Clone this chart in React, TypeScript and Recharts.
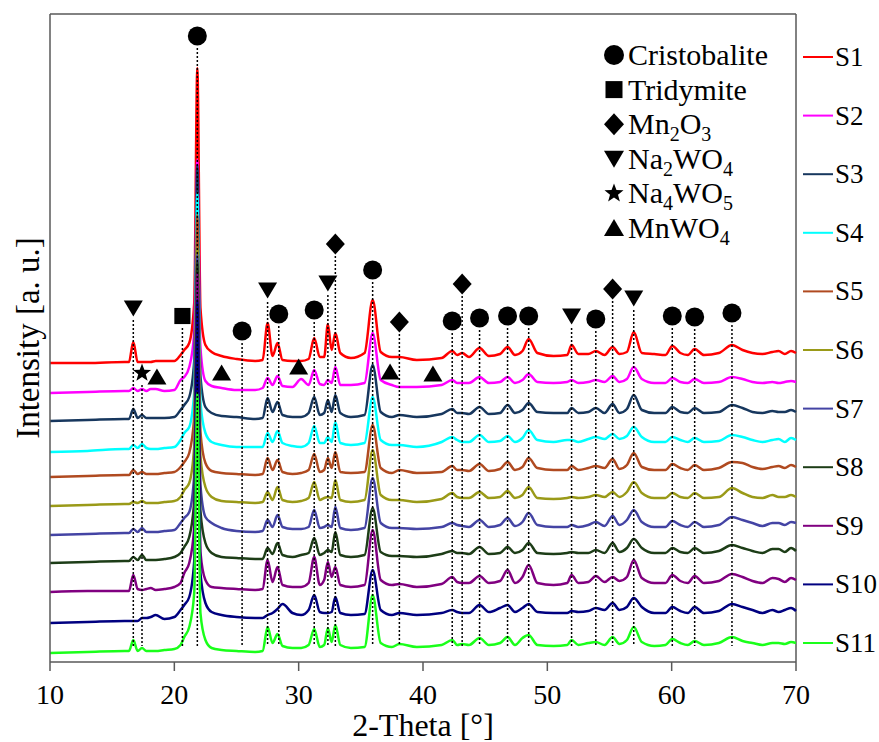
import { Legend, Line, LineChart, ReferenceDot, ReferenceLine, XAxis, YAxis } from 'recharts';

const serif = "'Liberation Serif', Tinos, 'Times New Roman', Times, 'DejaVu Serif', serif";
const axisGrey = '#595959';

// 2-theta positions (deg) shared by every pattern
const twoTheta = [
  10, 13, 16, 16.35, 16.7, 17.05, 17.4, 17.75, 18.1, 18.5,
  19.2, 20, 20.5, 20.8, 21.2, 21.6, 21.85, 22.1, 22.5, 23,
  23.8, 25, 26.5, 27.1, 27.5, 27.9, 28.3, 28.7, 29.5, 30.2,
  30.8, 31.25, 31.7, 32.05, 32.35, 32.65, 32.95, 33.35, 34.2, 35.3,
  35.95, 36.6, 37.5, 38.1, 39.5, 41.5, 42.35, 42.75, 43.15, 43.7,
  44.55, 45.3, 46.2, 46.8, 47.4, 48, 48.5, 49.2, 50.5, 51.6,
  51.95, 52.5, 53.3, 53.9, 54.6, 55.25, 55.8, 56.4, 56.95, 57.6,
  58.6, 59.5, 60.05, 60.7, 61.3, 61.85, 62.6, 63.8, 64.85, 65.7,
  66.5, 67.3, 68.1, 68.6, 69.1, 69.6, 70,
];

// intensities (a.u.) above each pattern's own baseline
const s1 = [
  0, 0, 1, 1, 21, 1, 1, 1, 1, 2,
  2, 2, 8, 13, 20, 60, 295, 55, 18, 11,
  7, 4, 2, 3, 40, 7, 20, 3, 2, 2,
  4, 25, 6, 6, 39, 13, 30, 10, 5, 10,
  63, 11, 6, 6, 3, 5, 12, 8, 10, 6,
  15, 7, 9, 16, 8, 12, 24, 10, 7, 8,
  18, 9, 9, 12, 8, 16, 9, 11, 31, 10,
  9, 8, 17, 10, 8, 14, 8, 10, 18, 13,
  10, 9, 11, 12, 9, 12, 10,
];
const s2 = [
  0, 1, 2, 2, 5, 2, 4, 2, 4, 4,
  2, 3, 13, 16, 26, 60, 233, 45, 12, 7,
  5, 3, 3, 5, 15, 8, 17, 7, 6, 14,
  8, 23, 9, 8, 13, 10, 26, 8, 8, 10,
  60, 13, 8, 6, 6, 8, 13, 10, 10, 10,
  16, 10, 11, 16, 10, 13, 19, 11, 10, 11,
  13, 10, 11, 13, 11, 17, 11, 14, 26, 14,
  10, 10, 15, 11, 10, 14, 10, 11, 16, 14,
  11, 10, 11, 10, 11, 12, 11,
];
const s3 = [
  0, 1, 2, 2, 12, 3, 6, 3, 3, 3,
  3, 4, 11, 16, 24, 60, 256, 45, 14, 8,
  5, 4, 2, 3, 23, 9, 19, 6, 4, 4,
  8, 24, 6, 8, 21, 9, 26, 8, 4, 6,
  56, 9, 4, 6, 4, 7, 12, 8, 8, 7,
  14, 7, 8, 16, 8, 11, 18, 9, 8, 8,
  13, 8, 9, 13, 8, 17, 8, 12, 26, 11,
  8, 8, 14, 9, 8, 13, 8, 9, 16, 13,
  9, 8, 10, 9, 9, 11, 9,
];
const s4 = [
  0, 1, 3, 3, 7, 4, 8, 4, 3, 3,
  4, 5, 12, 19, 25, 60, 259, 50, 19, 10,
  7, 5, 5, 5, 19, 10, 21, 9, 6, 5,
  9, 26, 9, 9, 15, 10, 30, 9, 7, 9,
  55, 12, 7, 7, 5, 10, 15, 12, 10, 10,
  17, 10, 11, 16, 10, 14, 22, 12, 10, 12,
  12, 10, 13, 15, 13, 18, 13, 16, 25, 15,
  10, 10, 15, 12, 10, 14, 10, 11, 17, 15,
  12, 10, 12, 13, 10, 14, 12,
];
const s5 = [
  0, 1, 2, 2, 7, 3, 5, 3, 3, 3,
  4, 5, 10, 15, 24, 60, 262, 45, 14, 6,
  4, 3, 2, 3, 19, 7, 17, 5, 3, 4,
  7, 23, 5, 7, 19, 9, 25, 5, 4, 5,
  52, 9, 4, 7, 4, 5, 11, 7, 7, 6,
  13, 6, 8, 15, 7, 10, 19, 9, 7, 7,
  11, 7, 9, 11, 9, 18, 8, 12, 24, 10,
  7, 7, 13, 9, 7, 12, 7, 9, 15, 14,
  10, 8, 10, 11, 9, 12, 10,
];
const s6 = [
  0, 1, 2, 2, 4, 3, 5, 3, 3, 3,
  4, 5, 9, 16, 23, 60, 258, 50, 19, 9,
  5, 4, 3, 4, 14, 6, 19, 6, 4, 5,
  8, 24, 6, 8, 9, 8, 26, 6, 4, 6,
  56, 11, 6, 6, 4, 7, 13, 9, 8, 8,
  14, 8, 9, 15, 8, 11, 19, 8, 7, 8,
  9, 8, 9, 11, 9, 14, 9, 14, 24, 13,
  8, 8, 13, 9, 8, 13, 8, 9, 18, 13,
  9, 8, 11, 9, 9, 11, 9,
];
const s7 = [
  0, 1, 2, 2, 6, 3, 7, 3, 3, 3,
  4, 5, 12, 17, 23, 60, 280, 50, 18, 12,
  7, 4, 3, 4, 15, 8, 20, 8, 6, 6,
  8, 25, 7, 8, 10, 8, 28, 7, 5, 7,
  57, 12, 7, 7, 6, 8, 12, 10, 9, 8,
  15, 8, 10, 17, 9, 13, 22, 10, 8, 8,
  10, 8, 10, 13, 9, 19, 10, 15, 25, 13,
  8, 8, 14, 10, 8, 13, 8, 10, 18, 15,
  12, 9, 12, 12, 10, 13, 12,
];
const s8 = [
  0, 1, 2, 2, 6, 3, 8, 3, 3, 3,
  4, 6, 10, 16, 26, 62, 301, 52, 20, 10,
  6, 5, 4, 4, 15, 9, 20, 8, 6, 8,
  10, 25, 8, 10, 13, 11, 31, 8, 6, 8,
  55, 11, 7, 7, 6, 9, 12, 10, 10, 9,
  16, 9, 10, 16, 10, 13, 20, 10, 9, 10,
  11, 10, 10, 13, 10, 20, 11, 15, 24, 15,
  10, 10, 15, 11, 10, 15, 10, 12, 18, 15,
  12, 10, 14, 14, 11, 15, 12,
];
const s9 = [
  0, 1, 1, 1, 17, 3, 2, 3, 4, 2,
  3, 5, 9, 19, 29, 65, 319, 40, 12, 5,
  4, 3, 2, 3, 32, 10, 25, 7, 5, 5,
  9, 35, 7, 12, 30, 15, 25, 7, 5, 7,
  62, 12, 7, 8, 5, 8, 15, 10, 9, 9,
  16, 9, 11, 22, 9, 15, 27, 9, 7, 9,
  17, 9, 10, 16, 10, 15, 11, 15, 32, 14,
  9, 9, 17, 11, 9, 16, 9, 11, 18, 15,
  11, 9, 14, 13, 10, 14, 12,
];
const s10 = [
  0, 1, 2, 2, 2, 2, 5, 5, 6, 8,
  4, 6, 13, 18, 26, 62, 323, 50, 20, 11,
  8, 6, 5, 5, 8, 10, 14, 19, 10, 8,
  13, 28, 11, 10, 10, 11, 26, 10, 8, 9,
  53, 13, 8, 10, 8, 10, 13, 11, 10, 10,
  18, 11, 15, 18, 11, 15, 19, 11, 10, 10,
  12, 11, 12, 15, 13, 20, 13, 16, 25, 16,
  10, 10, 16, 12, 10, 16, 10, 12, 19, 16,
  13, 10, 13, 11, 13, 15, 12,
];
const s11 = [
  0, 1, 2, 2, 13, 2, 5, 2, 2, 2,
  3, 4, 8, 16, 26, 60, 260, 40, 13, 5,
  3, 2, 1, 2, 26, 10, 19, 7, 5, 5,
  8, 24, 6, 8, 25, 11, 28, 8, 5, 6,
  58, 10, 6, 9, 6, 8, 13, 8, 9, 8,
  15, 8, 10, 16, 8, 15, 18, 8, 7, 8,
  13, 8, 10, 11, 8, 16, 9, 13, 26, 11,
  7, 8, 14, 10, 8, 12, 8, 10, 16, 12,
  10, 8, 10, 10, 9, 11, 10,
];

const sampleNames = ['S1', 'S2', 'S3', 'S4', 'S5', 'S6', 'S7', 'S8', 'S9', 'S10', 'S11'];
const sampleColors = [
  '#ff0000', '#ff00ff', '#17375e', '#00ffff', '#b04a20', '#9a9a18',
  '#4444a4', '#1d3d17', '#800080', '#000080', '#1aff1a',
];
// vertical stacking offset of each pattern
const sampleOffsets = [299, 269, 241, 210, 185, 156, 127, 99, 70, 39, 9];
const patterns = [s1, s2, s3, s4, s5, s6, s7, s8, s9, s10, s11];

const chartData = twoTheta.map((x, i) => {
  const row: Record<string, number> = { x };
  patterns.forEach((p, k) => {
    row[sampleNames[k]] = p[i] + sampleOffsets[k];
  });
  return row;
});

type Phase = 'circle' | 'square' | 'diamond' | 'down' | 'star' | 'up';

// phase markers: [2-theta, height]
const circleMarks = [
  [21.85, 626], [25.45, 331], [28.4, 348], [31.25, 352], [35.95, 392], [42.35, 341],
  [44.55, 344], [46.8, 346], [48.5, 346], [53.9, 343], [60.05, 346], [61.85, 345], [64.85, 349],
];
const squareMarks = [[20.65, 346]];
const diamondMarks = [[32.95, 418], [38.1, 340], [43.15, 378], [55.25, 373]];
const downMarks = [[16.7, 354], [27.5, 372], [32.35, 379], [51.95, 346], [56.95, 364]];
const starMarks = [[17.4, 289]];
const upMarks = [[18.6, 285], [23.8, 289], [30.0, 295], [37.35, 290], [40.8, 288]];

const phaseMarks: { x: number; y: number; kind: Phase }[] = [
  ...circleMarks.map(([x, y]) => ({ x, y, kind: 'circle' as Phase })),
  ...squareMarks.map(([x, y]) => ({ x, y, kind: 'square' as Phase })),
  ...diamondMarks.map(([x, y]) => ({ x, y, kind: 'diamond' as Phase })),
  ...downMarks.map(([x, y]) => ({ x, y, kind: 'down' as Phase })),
  ...starMarks.map(([x, y]) => ({ x, y, kind: 'star' as Phase })),
  ...upMarks.map(([x, y]) => ({ x, y, kind: 'up' as Phase })),
];

const phaseLegend: { kind: Phase; parts: [string, boolean][] }[] = [
  { kind: 'circle', parts: [['Cristobalite', false]] },
  { kind: 'square', parts: [['Tridymite', false]] },
  { kind: 'diamond', parts: [['Mn', false], ['2', true], ['O', false], ['3', true]] },
  { kind: 'down', parts: [['Na', false], ['2', true], ['WO', false], ['4', true]] },
  { kind: 'star', parts: [['Na', false], ['4', true], ['WO', false], ['5', true]] },
  { kind: 'up', parts: [['MnWO', false], ['4', true]] },
];

function PhaseSymbol({ kind, cx, cy, s }: { kind: Phase; cx: number; cy: number; s: number }) {
  const h = s / 2;
  if (kind === 'circle') return <circle cx={cx} cy={cy} r={h} fill="#000" />;
  if (kind === 'square') return <rect x={cx - h * 0.85} y={cy - h * 0.85} width={s * 0.85} height={s * 0.85} fill="#000" />;
  if (kind === 'diamond')
    return <polygon points={`${cx},${cy - h * 1.1} ${cx + h},${cy} ${cx},${cy + h * 1.1} ${cx - h},${cy}`} fill="#000" />;
  if (kind === 'down')
    return <polygon points={`${cx - h},${cy - h * 0.8} ${cx + h},${cy - h * 0.8} ${cx},${cy + h * 0.9}`} fill="#000" />;
  if (kind === 'up')
    return <polygon points={`${cx - h},${cy + h * 0.8} ${cx + h},${cy + h * 0.8} ${cx},${cy - h * 0.9}`} fill="#000" />;
  const pts: string[] = [];
  for (let i = 0; i < 10; i++) {
    const r = i % 2 === 0 ? h : h * 0.42;
    const a = -Math.PI / 2 + (i * Math.PI) / 5;
    pts.push(`${cx + r * Math.cos(a)},${cy + r * Math.sin(a)}`);
  }
  return <polygon points={pts.join(' ')} fill="#000" />;
}

function SampleLegend(props: any) {
  const { payload = [] } = props;
  return (
    <svg width={82} height={742} style={{ display: 'block' }}>
      {payload.map((p: any) => {
        const i = sampleNames.indexOf(p.value);
        const y = 57 + i * 58.6;
        return (
          <g key={p.value}>
            <line x1={6} x2={36} y1={y} y2={y} stroke={p.color} strokeWidth={2} />
            <text x={38} y={y + 9} style={{ fontSize: 27, fontFamily: serif }} fill="#000">
              {p.value}
            </text>
          </g>
        );
      })}
    </svg>
  );
}

function PhaseLegend() {
  return (
    <svg width={879} height={260} style={{ position: 'absolute', left: 0, top: 0, pointerEvents: 'none' }}>
      {phaseLegend.map((row, i) => {
        const y = 55 + i * 34.6;
        let shift = 0;
        return (
          <g key={i}>
            <PhaseSymbol kind={row.kind} cx={614} cy={y} s={20} />
            <text x={628} y={y + 10} style={{ fontSize: 30, fontFamily: serif }} fill="#000">
              {row.parts.map(([t, sub], j) => {
                const dy = (sub ? 7 : 0) - shift;
                shift = sub ? 7 : 0;
                return (
                  <tspan key={j} dy={dy} style={{ fontSize: sub ? 20 : 30 }}>
                    {t}
                  </tspan>
                );
              })}
            </text>
          </g>
        );
      })}
    </svg>
  );
}

export default function App() {
  return (
    <div style={{ position: 'absolute', left: 0, top: 0, width: 879, height: 742, background: '#fff', fontFamily: serif }}>
      <LineChart
        width={879}
        height={742}
        data={chartData}
        margin={{ top: 14, right: 83, bottom: 0, left: 0 }}
        style={{ fontFamily: serif }}
      >
        <XAxis
          dataKey="x"
          type="number"
          domain={[10, 70]}
          ticks={[10, 20, 30, 40, 50, 60, 70]}
          height={80}
          tickSize={9}
          tickMargin={13}
          axisLine={{ stroke: axisGrey, strokeWidth: 1.5 }}
          tickLine={{ stroke: axisGrey, strokeWidth: 1.5 }}
          tick={{ fontSize: 28, fill: '#000', style: { fontFamily: serif } }}
          label={{ value: '2-Theta [°]', position: 'insideBottom', offset: 6, fill: '#000', style: { fontSize: 32, fontFamily: serif } }}
        />
        <YAxis
          type="number"
          domain={[0, 648]}
          width={50}
          tick={false}
          tickLine={false}
          axisLine={{ stroke: axisGrey, strokeWidth: 1.5 }}
          label={{ value: 'Intensity [a. u.]', angle: -90, position: 'center', dx: 2, fill: '#000', style: { fontSize: 33, fontFamily: serif } }}
        />
        <ReferenceLine y={648} stroke={axisGrey} strokeWidth={1.5} />
        <ReferenceLine x={70} stroke={axisGrey} strokeWidth={1.5} />
        {sampleNames.map((name, k) => (
          <Line
            key={name}
            type="monotone"
            dataKey={name}
            name={name}
            stroke={sampleColors[k]}
            strokeWidth={2.5}
            dot={false}
            activeDot={false}
            isAnimationActive={false}
          />
        ))}
        {phaseMarks
          .filter((m) => m.kind !== 'up')
          .map((m, i) => (
            <ReferenceLine
              key={`l${i}`}
              segment={[
                { x: m.x, y: m.y - 12 },
                { x: m.x, y: 16 },
              ]}
              stroke="#000"
              strokeWidth={1.5}
              strokeDasharray="2 2"
            />
          ))}
        {phaseMarks.map((m, i) => (
          <ReferenceDot
            key={`d${i}`}
            x={m.x}
            y={m.y}
            r={9}
            shape={(p: any) => <PhaseSymbol kind={m.kind} cx={p.cx} cy={p.cy} s={19} />}
          />
        ))}
        <Legend
          layout="vertical"
          align="center"
          verticalAlign="middle"
          content={SampleLegend}
          wrapperStyle={{ left: 797, top: 0, width: 82, height: 742 }}
        />
      </LineChart>
      <PhaseLegend />
    </div>
  );
}
